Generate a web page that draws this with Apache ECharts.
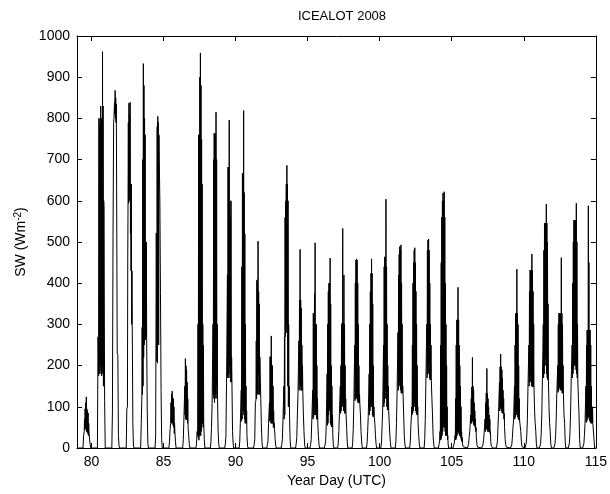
<!DOCTYPE html>
<html>
<head>
<meta charset="utf-8">
<title>ICEALOT 2008 – shortwave radiation</title>
<script src="https://cdn.jsdelivr.net/npm/echarts@6/dist/echarts.min.js"></script>
<style>
  html, body { margin: 0; padding: 0; background: #fff; }
  #chart { width: 610px; height: 494px; }
</style>
</head>
<body>
<div id="chart"></div>
<script>
// Year days covered by the record
const yearDays = [79, 80, 81, 82, 83, 84, 85, 86, 87, 88, 89, 90, 91, 92, 93, 94, 95, 96,
                  97, 98, 99, 100, 101, 102, 103, 104, 105, 106, 107, 108, 109, 110, 111, 112, 113, 114];

// UTC hour of the first daylight sample of each day
const riseHour = [10, 10, 10, 10, 10, 10, 9, 8, 6, 6, 6, 6, 6, 4, 4, 4, 4, 4,
                  2, 2, 2, 2, 2, 2, 2, 2, 2, 2, 2, 2, 2, 2, 2, 2, 2, 2];

// Hourly maximum of downwelling shortwave (W m-2), sunrise to sunset, one list per day
const swHourMax = [
  [0, 30, 70, 95, 110, 124, 95, 90, 85, 60, 40, 20, 8, 0],
  [0, 270, 800, 780, 800, 830, 800, 790, 962, 830, 600, 580, 116, 0],
  [0, 90, 513, 800, 840, 868, 850, 835, 626, 230, 225, 30, 5, 0],
  [0, 95, 449, 790, 837, 810, 839, 640, 640, 430, 300, 60, 5, 0],
  [0, 60, 293, 700, 933, 880, 800, 760, 497, 500, 262, 90, 10, 0],
  [0, 30, 522, 780, 805, 790, 760, 699, 600, 377, 140, 20, 0, 0],
  [0, 15, 45, 110, 130, 138, 120, 120, 100, 60, 40, 15, 0],
  [0, 20, 70, 150, 217, 200, 190, 160, 120, 50, 30, 8, 0],
  [0, 10, 40, 300, 760, 760, 900, 959, 880, 750, 640, 300, 250, 60, 20, 0],
  [0, 15, 50, 110, 300, 700, 764, 760, 764, 815, 700, 300, 120, 40, 10, 0],
  [0, 10, 30, 160, 420, 682, 680, 796, 600, 560, 600, 220, 160, 40, 10, 0],
  [0, 15, 60, 140, 440, 667, 660, 819, 620, 520, 300, 150, 90, 30, 5, 0],
  [0, 8, 20, 110, 260, 408, 400, 502, 380, 350, 221, 221, 120, 60, 15, 0],
  [0, 8, 15, 60, 110, 222, 220, 272, 200, 200, 150, 90, 60, 45, 20, 5, 0],
  [0, 8, 20, 68, 150, 270, 560, 600, 640, 686, 640, 600, 300, 150, 70, 15, 0],
  [0, 10, 25, 80, 133, 260, 359, 482, 359, 340, 250, 200, 140, 80, 40, 10, 0],
  [0, 8, 20, 68, 140, 327, 327, 375, 498, 300, 300, 200, 120, 60, 30, 8, 0],
  [0, 8, 15, 51, 180, 300, 380, 400, 400, 461, 350, 200, 150, 80, 30, 5, 0],
  [0, 10, 40, 84, 150, 200, 300, 303, 533, 303, 420, 300, 200, 120, 84, 50, 15, 0],
  [0, 10, 45, 109, 250, 400, 456, 459, 456, 400, 300, 200, 130, 109, 80, 40, 15, 0],
  [0, 10, 40, 76, 180, 300, 380, 424, 459, 424, 350, 200, 100, 76, 60, 30, 10, 0],
  [0, 12, 50, 92, 250, 440, 464, 464, 604, 440, 300, 200, 150, 92, 60, 30, 10, 0],
  [0, 15, 60, 133, 280, 420, 470, 489, 480, 493, 400, 300, 150, 133, 80, 30, 10, 0],
  [0, 15, 55, 100, 250, 400, 450, 480, 486, 450, 380, 300, 200, 100, 60, 30, 10, 0],
  [0, 20, 70, 165, 300, 480, 505, 507, 480, 400, 300, 250, 165, 120, 80, 30, 10, 0],
  [0, 10, 40, 250, 450, 560, 600, 619, 600, 622, 560, 400, 300, 200, 100, 30, 10, 0],
  [0, 5, 10, 30, 120, 250, 311, 311, 390, 311, 250, 200, 150, 100, 40, 25, 10, 3, 0],
  [0, 3, 8, 25, 50, 80, 120, 148, 220, 150, 140, 110, 90, 70, 50, 25, 8, 2, 0],
  [0, 3, 8, 20, 40, 70, 110, 133, 193, 133, 120, 100, 80, 70, 40, 15, 5, 1, 0],
  [0, 5, 15, 50, 84, 160, 197, 228, 197, 190, 170, 140, 120, 84, 50, 20, 8, 2, 0],
  [0, 3, 8, 25, 50, 68, 150, 250, 327, 327, 434, 327, 300, 200, 120, 68, 68, 40, 15, 3, 0],
  [0, 3, 10, 30, 70, 148, 250, 380, 432, 432, 430, 471, 432, 380, 300, 148, 90, 60, 40, 10, 0],
  [0, 3, 10, 35, 80, 165, 300, 480, 546, 546, 546, 592, 546, 500, 350, 165, 100, 60, 40, 10, 0],
  [0, 3, 10, 30, 70, 133, 200, 300, 327, 327, 320, 327, 462, 327, 300, 200, 133, 80, 60, 15, 0],
  [0, 4, 12, 40, 90, 165, 250, 400, 500, 553, 553, 553, 553, 594, 500, 300, 165, 120, 80, 20, 0],
  [0, 3, 10, 30, 60, 150, 250, 286, 286, 588, 450, 286, 286, 250, 150, 100, 100, 60, 60, 20, 0]
];

// Hourly minimum of downwelling shortwave (W m-2), same hours as the maxima
const swHourMin = [
  [0, 30, 40, 45, 50, 45, 40, 40, 35, 30, 40, 20, 8, 0],
  [0, 270, 175, 180, 190, 200, 180, 175, 200, 180, 150, 580, 116, 0],
  [0, 90, 513, 790, 800, 810, 800, 790, 626, 230, 225, 30, 5, 0],
  [0, 95, 100, 600, 594, 600, 620, 520, 430, 300, 300, 60, 5, 0],
  [0, 60, 124, 130, 150, 220, 250, 300, 262, 270, 262, 90, 10, 0],
  [0, 30, 522, 210, 206, 300, 250, 699, 600, 377, 140, 20, 0, 0],
  [0, 15, 45, 60, 60, 65, 60, 55, 50, 35, 40, 15, 0],
  [0, 20, 70, 70, 80, 70, 68, 70, 60, 50, 30, 8, 0],
  [0, 10, 40, 30, 25, 19, 30, 30, 30, 40, 60, 60, 50, 60, 20, 0],
  [0, 15, 50, 108, 110, 130, 120, 110, 120, 130, 150, 120, 120, 40, 10, 0],
  [0, 10, 30, 157, 160, 170, 180, 170, 200, 180, 160, 160, 160, 40, 10, 0],
  [0, 15, 60, 60, 65, 70, 100, 90, 80, 70, 60, 60, 60, 30, 5, 0],
  [0, 8, 20, 110, 116, 120, 140, 130, 180, 130, 130, 221, 120, 60, 15, 0],
  [0, 8, 15, 60, 60, 65, 70, 60, 60, 60, 60, 50, 50, 45, 20, 5, 0],
  [0, 8, 20, 68, 68, 70, 80, 270, 280, 300, 280, 150, 100, 100, 70, 15, 0],
  [0, 10, 25, 80, 133, 135, 140, 160, 150, 140, 140, 140, 140, 80, 40, 10, 0],
  [0, 8, 20, 68, 68, 70, 75, 80, 100, 80, 80, 70, 70, 60, 30, 8, 0],
  [0, 8, 15, 51, 51, 55, 60, 80, 90, 100, 60, 55, 51, 51, 30, 5, 0],
  [0, 10, 40, 84, 84, 84, 90, 100, 110, 100, 90, 90, 84, 84, 84, 50, 15, 0],
  [0, 10, 45, 109, 110, 115, 120, 130, 120, 115, 110, 109, 109, 109, 80, 40, 15, 0],
  [0, 10, 40, 76, 76, 80, 90, 100, 110, 100, 80, 76, 76, 76, 60, 30, 10, 0],
  [0, 12, 50, 92, 92, 100, 110, 120, 140, 120, 100, 92, 92, 92, 60, 30, 10, 0],
  [0, 15, 60, 133, 133, 140, 150, 160, 150, 140, 133, 133, 133, 133, 80, 30, 10, 0],
  [0, 15, 55, 80, 80, 85, 90, 100, 110, 100, 90, 85, 80, 80, 60, 30, 10, 0],
  [0, 20, 70, 165, 165, 170, 180, 200, 180, 170, 165, 165, 165, 120, 80, 30, 10, 0],
  [0, 10, 19, 19, 20, 25, 30, 40, 50, 60, 50, 40, 30, 30, 30, 20, 10, 0],
  [0, 5, 10, 20, 20, 20, 25, 30, 40, 40, 35, 30, 30, 25, 20, 15, 10, 3, 0],
  [0, 3, 8, 25, 40, 50, 60, 60, 70, 65, 60, 55, 55, 50, 40, 25, 8, 2, 0],
  [0, 3, 8, 20, 36, 36, 40, 45, 50, 45, 40, 40, 40, 40, 35, 15, 5, 1, 0],
  [0, 5, 15, 50, 84, 84, 90, 100, 95, 90, 85, 84, 84, 70, 50, 20, 8, 2, 0],
  [0, 3, 8, 25, 50, 68, 68, 70, 75, 80, 90, 80, 75, 70, 68, 68, 68, 40, 15, 3, 0],
  [0, 3, 10, 30, 70, 148, 150, 150, 160, 170, 160, 150, 150, 148, 148, 148, 90, 60, 40, 10, 0],
  [0, 3, 10, 35, 80, 165, 165, 170, 180, 200, 220, 200, 180, 170, 165, 165, 100, 60, 40, 10, 0],
  [0, 3, 10, 30, 70, 133, 133, 135, 140, 150, 145, 140, 150, 140, 133, 133, 133, 80, 60, 15, 0],
  [0, 4, 12, 40, 90, 165, 165, 170, 180, 190, 200, 210, 200, 190, 180, 170, 165, 120, 80, 20, 0],
  [0, 3, 10, 30, 60, 60, 62, 65, 70, 80, 75, 70, 65, 62, 60, 60, 60, 60, 60, 20, 0]
];

// Axis tick values and limits
const xTicks = [80, 85, 90, 95, 100, 105, 110, 115];
const xRange = [79, 115];
const yRange = [0, 1000];

// Each hour is drawn from its minimum at the top of the hour to its maximum half an
// hour later, so cloudy stretches show up as a dense band; nights stay at zero.
const points = [[xRange[0], 0]];
yearDays.forEach((day, i) => {
  swHourMin[i].forEach((lo, j) => {
    const t = day + (riseHour[i] + j) / 24;
    points.push([t, lo]);
    points.push([t + 0.5 / 24, swHourMax[i][j]]);
  });
});
points.push([xRange[1], 0]);

const font = 'Liberation Sans, Arial, sans-serif';
const axisColor = '#000';

function boxAxis(extra) {
  return Object.assign({
    type: 'value',
    axisLine: { show: true, onZero: false, lineStyle: { color: axisColor, width: 1 } },
    axisTick: { show: true, inside: true, length: 5, lineStyle: { color: axisColor } },
    splitLine: { show: false },
    axisLabel: { show: false }
  }, extra);
}

const chart = echarts.init(document.getElementById('chart'), null, { renderer: 'canvas' });
chart.setOption({
  animation: false,
  backgroundColor: '#fff',
  title: {
    text: 'ICEALOT 2008',
    left: 337,
    top: 5,
    textAlign: 'center',
    textStyle: { fontFamily: font, fontSize: 13, fontWeight: 'normal', color: '#000' }
  },
  grid: { left: 77, right: 13, top: 36, bottom: 46, containLabel: false },
  xAxis: [
    boxAxis({
      position: 'bottom',
      min: xRange[0], max: xRange[1],
      axisTick: { show: true, inside: true, length: 5, customValues: xTicks, lineStyle: { color: axisColor } },
      axisLabel: { show: true, customValues: xTicks, margin: 7, fontFamily: font, fontSize: 14, color: '#000' },
      name: 'Year Day (UTC)',
      nameLocation: 'middle',
      nameGap: 24,
      nameTextStyle: { fontFamily: font, fontSize: 14, color: '#000' }
    }),
    boxAxis({
      position: 'top',
      min: xRange[0], max: xRange[1],
      axisTick: { show: true, inside: true, length: 5, customValues: xTicks, lineStyle: { color: axisColor } }
    })
  ],
  yAxis: [
    boxAxis({
      position: 'left',
      min: yRange[0], max: yRange[1], interval: 100,
      axisLabel: {
        show: true, margin: 7, fontFamily: font, fontSize: 14, color: '#000',
        formatter: v => String(v)
      },
      name: '{a|SW (Wm}{s|-2}{a|)}',
      nameLocation: 'middle',
      nameGap: 46,
      nameTextStyle: {
        color: '#000',
        rich: {
          a: { fontFamily: font, fontSize: 14, color: '#000' },
          s: { fontFamily: font, fontSize: 10, color: '#000', verticalAlign: 'top', padding: [0, 0, 6, 0] }
        }
      }
    }),
    boxAxis({
      position: 'right',
      min: yRange[0], max: yRange[1], interval: 100
    })
  ],
  series: [{
    type: 'line',
    data: points,
    xAxisIndex: 0,
    yAxisIndex: 0,
    showSymbol: false,
    symbol: 'none',
    sampling: null,
    lineStyle: { color: '#000', width: 1 },
    clip: true
  }]
});
</script>
</body>
</html>
